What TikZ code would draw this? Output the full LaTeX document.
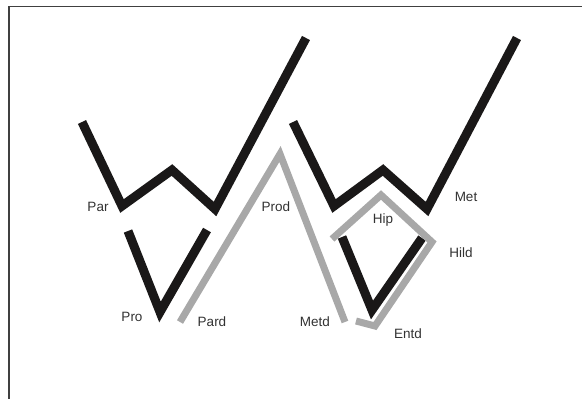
\documentclass[tikz,border=0pt]{standalone}
\usepackage{fontspec}
\setmainfont{Liberation Sans}
\usepackage{xcolor}
\definecolor{inkblack}{RGB}{26,24,24}
\definecolor{trackgray}{RGB}{168,168,168}
\definecolor{labelgray}{RGB}{50,50,50}

\begin{document}
\begin{tikzpicture}[line cap=butt,line join=miter,x=1pt,y=-1pt,
  blackpath/.style={draw=inkblack,line width=9pt},
  graypath/.style={draw=trackgray,line width=7pt},
  lbl/.style={font=\fontsize{13.5}{16}\selectfont,text=labelgray,inner sep=0pt}]
\useasboundingbox (0,0) rectangle (582,399);
\draw [line width=1.5pt,black!75] (9,399)-- (9,6.5)-- (582,6.5);
% left W
\coordinate (lwa) at (82,122);
\coordinate (lwb) at (122,206);
\coordinate (lwc) at (172,170);
\coordinate (lwd) at (215,209);
\coordinate (lwe) at (306,38);
\draw [blackpath] (lwa)-- (lwb)-- (lwc)-- (lwd)-- (lwe);
% left V
\coordinate (lva) at (128,231);
\coordinate (lvb) at (160,312);
\coordinate (lvc) at (207,230);
\draw [blackpath] (lva)-- (lvb)-- (lvc);
% gray peak
\coordinate (gpa) at (180,322);
\coordinate (gpb) at (280,154);
\coordinate (gpc) at (345,322);
\draw [graypath] (gpa)-- (gpb)-- (gpc);
% right W
\coordinate (rwa) at (293,122);
\coordinate (rwb) at (334,206);
\coordinate (rwc) at (383,170);
\coordinate (rwd) at (427,209);
\coordinate (rwe) at (517,38);
\draw [blackpath] (rwa)-- (rwb)-- (rwc)-- (rwd)-- (rwe);
% right V
\coordinate (rva) at (342,237);
\coordinate (rvb) at (372,310);
\coordinate (rvc) at (422,238);
\draw [blackpath] (rva)-- (rvb)-- (rvc);
% gray kite
\coordinate (gka) at (332,239);
\coordinate (gkb) at (381,195);
\coordinate (gkc) at (432,242);
\coordinate (gkd) at (375,326);
\coordinate (gke) at (356,321);
\draw [graypath] (gka)-- (gkb)-- (gkc)-- (gkd)-- (gke);
% labels
\node [lbl] (par) at (98,207) {Par};
\node [lbl] (pro) at (132,317) {Pro};
\node [lbl] (pard) at (212,322) {Pard};
\node [lbl] (prod) at (276,207) {Prod};
\node [lbl] (metd) at (315,322) {Metd};
\node [lbl] (entd) at (408,334) {Entd};
\node [lbl] (hip) at (383,220) {Hip};
\node [lbl] (hild) at (461,253) {Hild};
\node [lbl] (met) at (466,197) {Met};
\end{tikzpicture}
\end{document}
